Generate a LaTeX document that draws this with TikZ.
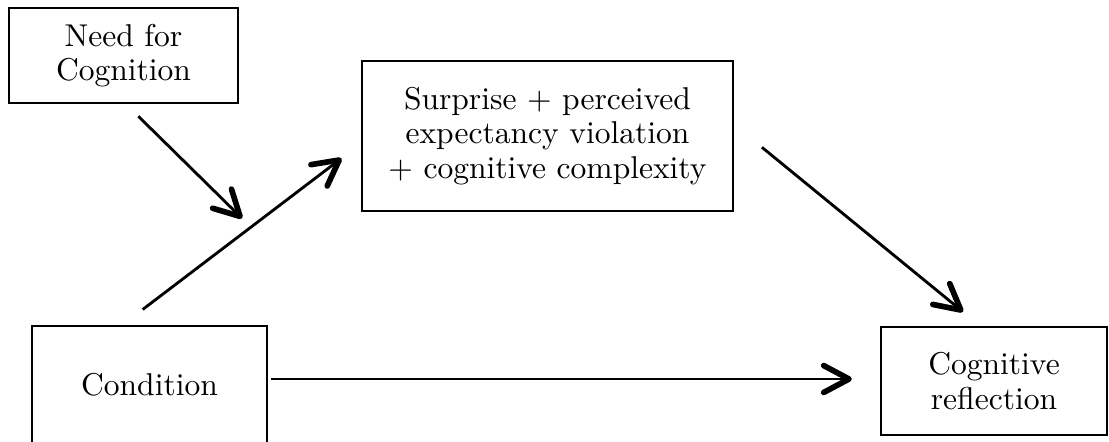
\documentclass[tikz,border=0pt]{standalone}
\usetikzlibrary{arrows.meta}
\begin{document}
\begin{tikzpicture}[x=0.317pt,y=-0.317pt,
  every node/.style={font=\fontsize{10}{11}\selectfont},
  varbox/.style={draw,thick,align=center,inner sep=0pt},
  arr/.style={line width=0.9pt,-{Straight Barb[length=8pt,width=8.5pt,line width=1.8pt,round]}}]
\useasboundingbox (0,0) rectangle (1109,441);
\node[varbox,minimum width=72.6pt,minimum height=30.1pt] (nfc) at (123.5,55.5) {Need for\\Cognition};
\node[varbox,minimum width=117.6pt,minimum height=47.6pt] (surp) at (547.5,136) {Surprise + perceived\\expectancy violation\\+ cognitive complexity};
\node[varbox,minimum width=74.5pt,minimum height=37.4pt] (cond) at (149.5,385) {Condition};
\node[varbox,minimum width=71.6pt,minimum height=34.2pt] (refl) at (994,381) {Cognitive\\reflection};
% condition -> mediator, moderator points at its middle
\draw[arr] ([shift={(-6.8,-15.3)}]cond.north) -- coordinate[midway] (mid) ([shift={(-19.3,22.3)}]surp.west);
\draw[arr] ([shift={(14.8,12)}]nfc.south) -- ([shift={(0,-15.5)}]mid);
\draw[arr] ([shift={(27.7,11.3)}]surp.east) -- ([shift={(-31,-14)}]refl.north);
\draw[arr] ([shift={(3,-6)}]cond.east) -- ([shift={(-28,-2)}]refl.west);
\end{tikzpicture}
\end{document}
